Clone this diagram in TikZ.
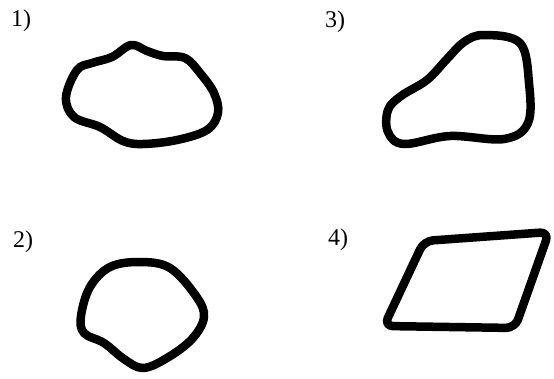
\documentclass[tikz,border=0pt]{standalone}
\usepackage{fontspec}
\setmainfont{Liberation Serif}
\begin{document}
\begin{tikzpicture}[x=1pt,y=-1pt,
  blob/.style={line width=8.5pt,line join=round,line cap=round},
  lab/.style={anchor=base west,inner sep=0pt,font=\fontsize{24}{27}\selectfont}]
\useasboundingbox (0,0) rectangle (554,378);
% labels
\node[lab] (l1) at (11,26) {1)};
\node[lab] (l3) at (325,27) {3)};
\node[lab] (l2) at (13,247) {2)};
\node[lab] (l4) at (328,245) {4)};
% shape 1
\draw[blob] plot[smooth cycle,tension=0.6] coordinates {
 (131,45) (147,51) (163,56) (185,58) (200,73) (214,93) (218,113) (207,130)
 (177,140) (143,144) (123,141) (100,127) (74,117) (66,97) (77,70) (92,63) (112,57)};
% shape 3
\draw[blob] plot[smooth cycle,tension=0.6] coordinates {
 (484,35) (520,43) (529,83) (528,123) (504,139) (450,136) (404,144)
 (388,132) (388,110) (401,96) (427,80) (447,59) (464,42)};
% shape 2
\draw[blob] plot[smooth cycle,tension=0.6] coordinates {
 (140,262) (170,268) (196,296) (204,317) (192,339) (167,358) (143,368)
 (124,359) (104,343) (84,333) (81,316) (90,287) (110,267)};
% shape 4
\draw[blob,rounded corners=9pt] (424,241) -- (549,232) -- (515,328) -- (384,326) -- cycle;
\end{tikzpicture}
\end{document}
